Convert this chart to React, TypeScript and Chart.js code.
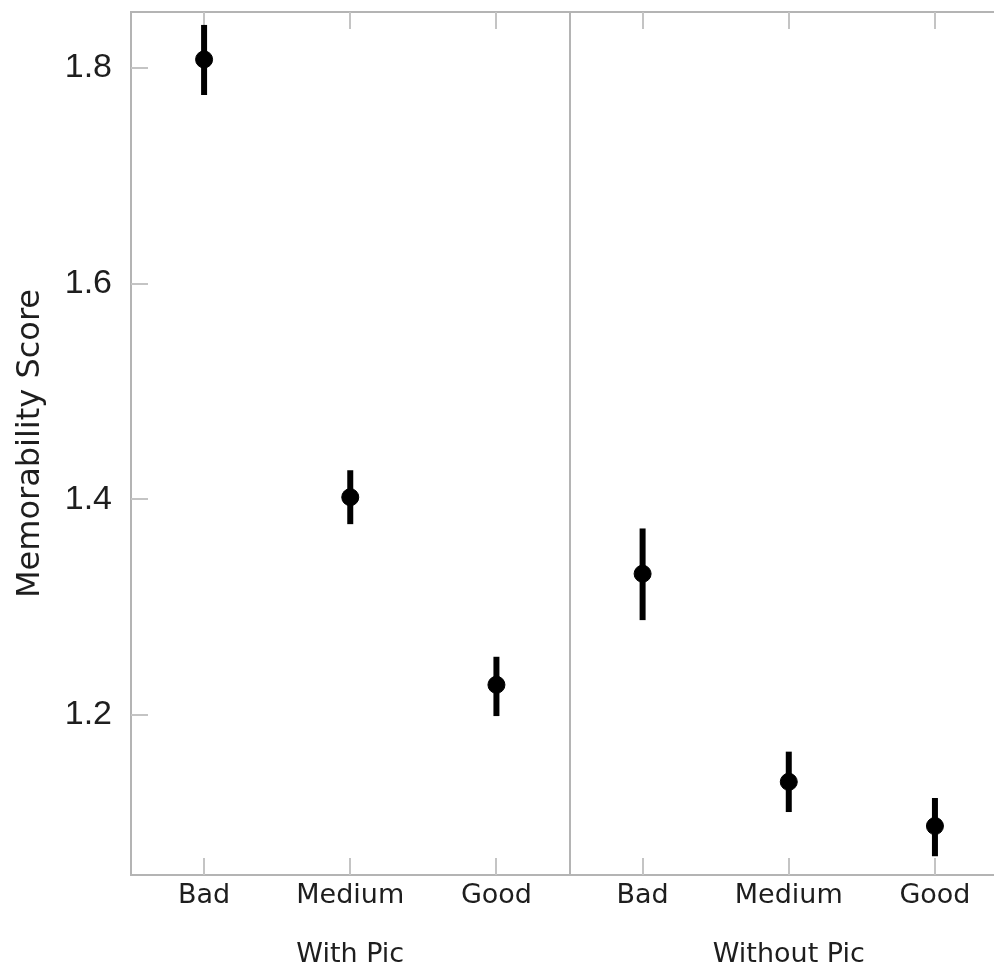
import React, { useEffect, useRef } from "react";
import { Chart, registerables } from "chart.js";

Chart.register(...registerables);

const categories = ["Bad", "Medium", "Good", "Bad", "Medium", "Good"];
const groups = ["With Pic", "Without Pic"];
const means = [1.808, 1.402, 1.228, 1.331, 1.138, 1.097];
const upper = [1.84, 1.427, 1.254, 1.373, 1.166, 1.123];
const lower = [1.775, 1.377, 1.199, 1.288, 1.11, 1.069];
const yTicks = [1.2, 1.4, 1.6, 1.8];
const yTitle = "Memorability Score";

const AXIS = "#b4b4b4";
const TEXT = "#1e1e1e";
const FONT = "'DejaVu Sans', sans-serif";

const decorPlugin = {
  id: "decor",
  beforeDatasetsDraw(chart: any) {
    const { ctx, chartArea, scales } = chart;
    const x = scales.x;
    const y = scales.y;
    ctx.save();
    ctx.strokeStyle = AXIS;
    ctx.lineWidth = 2;
    ctx.beginPath();
    ctx.moveTo(chartArea.left, chartArea.top);
    ctx.lineTo(chartArea.right, chartArea.top);
    ctx.stroke();
    const dx = Math.round(x.getPixelForValue(3.5));
    ctx.beginPath();
    ctx.moveTo(dx, chartArea.top);
    ctx.lineTo(dx, chartArea.bottom);
    ctx.stroke();
    ctx.strokeStyle = "#c4c4c4";
    ctx.lineWidth = 2;
    const tl = 17;
    categories.forEach((_, i) => {
      const px = Math.round(x.getPixelForValue(i + 1));
      ctx.beginPath();
      ctx.moveTo(px, chartArea.bottom);
      ctx.lineTo(px, chartArea.bottom - tl);
      ctx.moveTo(px, chartArea.top);
      ctx.lineTo(px, chartArea.top + tl);
      ctx.stroke();
    });
    yTicks.forEach((v) => {
      const py = Math.round(y.getPixelForValue(v));
      ctx.beginPath();
      ctx.moveTo(chartArea.left, py);
      ctx.lineTo(chartArea.left + tl, py);
      ctx.stroke();
    });
    ctx.strokeStyle = "#000";
    ctx.lineWidth = 6;
    means.forEach((_, i) => {
      const px = x.getPixelForValue(i + 1);
      ctx.beginPath();
      ctx.moveTo(px, y.getPixelForValue(upper[i]));
      ctx.lineTo(px, y.getPixelForValue(lower[i]));
      ctx.stroke();
    });
    ctx.fillStyle = TEXT;
    ctx.font = "27px " + FONT;
    ctx.textAlign = "center";
    ctx.textBaseline = "alphabetic";
    groups.forEach((g, gi) => {
      const px = x.getPixelForValue(2 + gi * 3);
      ctx.fillText(g, px, 962);
    });
    ctx.restore();
  },
};

const zeroPad = (s: any) => {
  s.paddingTop = 0;
  s.paddingBottom = 0;
  s.paddingLeft = 0;
  s.paddingRight = 0;
};

export default function App() {
  const ref = useRef<HTMLCanvasElement | null>(null);
  useEffect(() => {
    document.body.style.margin = "0";
    const canvas = ref.current!;
    const chart = new Chart(canvas, {
      type: "scatter",
      data: {
        datasets: [
          {
            data: means.map((m, i) => ({ x: i + 1, y: m })),
            backgroundColor: "#000",
            borderColor: "#000",
            pointRadius: 8.5,
            pointHoverRadius: 8.5,
          },
        ],
      },
      options: {
        animation: false,
        responsive: false,
        events: [],
        layout: { autoPadding: false, padding: { top: 12, right: 0, left: 0, bottom: 0 } },
        plugins: { legend: { display: false }, tooltip: { enabled: false } },
        scales: {
          x: {
            type: "linear",
            min: 0.5,
            max: 6.404,
            grid: { display: false, drawTicks: false },
            border: { display: true, color: AXIS, width: 2 },
            afterBuildTicks: (s: any) => {
              s.ticks = categories.map((_, i) => ({ value: i + 1 }));
            },
            afterFit: (s: any) => {
              s.height = 92;
              zeroPad(s);
            },
            ticks: {
              autoSkip: false,
              maxRotation: 0,
              padding: 5,
              color: TEXT,
              font: { family: FONT, size: 27 },
              callback: (v: any) => categories[Math.round(v) - 1] ?? "",
            },
          },
          y: {
            type: "linear",
            min: 1.0516,
            max: 1.852,
            grid: { display: false, drawTicks: false },
            border: { display: true, color: AXIS, width: 2 },
            afterBuildTicks: (s: any) => {
              s.ticks = yTicks.map((v) => ({ value: v }));
            },
            afterFit: (s: any) => {
              s.width = 131;
              zeroPad(s);
            },
            ticks: {
              padding: 19,
              color: TEXT,
              font: { family: "'Liberation Sans', sans-serif", size: 34 },
              callback: (v: any) => Number(v).toFixed(1),
            },
            title: {
              display: true,
              text: yTitle,
              color: TEXT,
              font: { family: FONT, size: 32 },
              padding: { top: 11, bottom: 0 },
            },
          },
        },
      },
      plugins: [decorPlugin],
    });
    return () => chart.destroy();
  }, []);
  return (
    <div style={{ width: 994, height: 967, background: "#fff" }}>
      <canvas ref={ref} width={994} height={967} />
    </div>
  );
}
